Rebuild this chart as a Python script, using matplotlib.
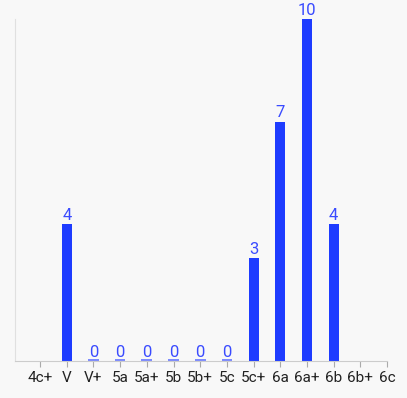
import numpy as np
import matplotlib.pyplot as plt

plt.rcParams['font.family'] = ['Roboto', 'DejaVu Sans']

grades = ["4c+", "V", "V+", "5a", "5a+", "5b", "5b+", "5c", "5c+", "6a", "6a+", "6b", "6b+", "6c"]
counts = [np.nan, 4, 0, 0, 0, 0, 0, 0, 3, 7, 10, 4, np.nan, np.nan]

bg = "#f8f8f8"
blue = "#1e3cff"

fig = plt.figure(figsize=(4.07, 3.98), dpi=100, facecolor=bg)
ax = fig.add_axes([15 / 407, 37 / 398, 372 / 407, 342 / 398], facecolor=bg)

x = np.arange(len(grades))
for xi, c in zip(x, counts):
    if np.isnan(c):
        continue
    if c == 0:
        ax.plot([xi - 0.2, xi + 0.2], [0.03, 0.03], color="#7080ff", lw=1.3, solid_capstyle="butt")
    else:
        ax.bar(xi, c, width=0.38, color=blue, zorder=2)
    ax.text(xi, c + 0.04, f"{int(c)}", ha="center", va="bottom", color="#3a4bff", fontsize=12)

ax.set_xlim(-0.94, 13)
ax.set_ylim(0, 10)
ax.set_xticks(x)
ax.set_xticklabels(grades, fontsize=11, color="#222222")
ax.set_yticks([])
ax.tick_params(axis="x", length=4, color="#aaaaaa", pad=3)

for s in ["top", "right"]:
    ax.spines[s].set_visible(False)
ax.spines["left"].set_color("#e0e0e0")
ax.spines["bottom"].set_color("#cccccc")

fig.savefig("out.png", dpi=100, facecolor=bg)
